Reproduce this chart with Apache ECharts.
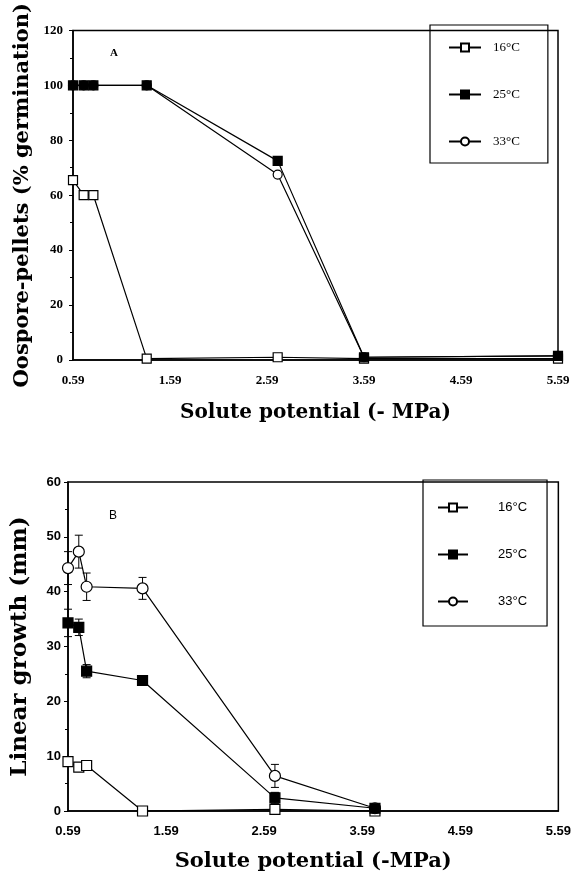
<!DOCTYPE html>
<html>
<head>
<meta charset="utf-8">
<script src="https://cdn.jsdelivr.net/npm/echarts@6/dist/echarts.min.js"></script>
<style>
  body { margin: 0; background: #fff; }
  #chartA { width: 574px; height: 430px; }
  #chartB { width: 574px; height: 447px; }
</style>
</head>
<body>
<div id="chartA"></div>
<div id="chartB"></div>
<script>
// panel A: oospore-pellet germination (%)
var xTicks = [0.59, 1.59, 2.59, 3.59, 4.59, 5.59];
var legendNames = ['16°C', '25°C', '33°C'];

var xA = [0.59, 0.70, 0.80, 1.35, 2.70, 3.59, 5.59];
var germ16 = [65.5, 60, 60, 0.5, 1, 0.5, 0.5];
var germ25 = [100, 100, 100, 100, 72.5, 1, 1.5];
var germ33 = [100, 100, 100, 100, 67.5, 1, 1.5];

// panel B: linear growth (mm), with error bars
var xB = [0.59, 0.70, 0.78, 1.35, 2.70, 3.72];
var grow16 = [9, 8, 8.3, 0, 0.3, 0];
var grow25 = [34.3, 33.5, 25.5, 23.8, 2.4, 0.5];
var grow33 = [44.3, 47.3, 40.9, 40.6, 6.4, 0.5];
var err16 = [0.8, 0.6, 0.6, 0, 0, 0];
var err25 = [2.5, 1.5, 1.2, 0.5, 1, 0];
var err33 = [3, 3, 2.5, 2, 2.1, 0];

function pairs(xs, ys) {
    return xs.map(function (x, i) { return [x, ys[i]]; });
}
function errRows(xs, ys, es) {
    return xs.map(function (x, i) { return [x, ys[i] - es[i], ys[i] + es[i]]; });
}

var symbolStyles = {
    '16°C': {symbol: 'rect', color: '#fff'},
    '25°C': {symbol: 'rect', color: '#000'},
    '33°C': {symbol: 'circle', color: '#fff'}
};

function lineSeries(name, data, z, size) {
    return {
        name: name,
        type: 'line',
        data: data,
        symbol: symbolStyles[name].symbol,
        symbolSize: size,
        z: z,
        lineStyle: {color: '#000', width: 1.2},
        itemStyle: {color: symbolStyles[name].color, borderColor: '#000', borderWidth: 1.2}
    };
}

function errorSeries(name, rows) {
    return {
        name: name,
        type: 'custom',
        data: rows,
        z: 1,
        encode: {x: 0, y: [1, 2]},
        renderItem: function (params, api) {
            var x = api.value(0);
            var lo = api.coord([x, api.value(1)]);
            var hi = api.coord([x, api.value(2)]);
            var st = {stroke: '#000', lineWidth: 1};
            return {
                type: 'group',
                children: [
                    {type: 'line', shape: {x1: lo[0], y1: lo[1], x2: hi[0], y2: hi[1]}, style: st},
                    {type: 'line', shape: {x1: lo[0] - 4, y1: lo[1], x2: lo[0] + 4, y2: lo[1]}, style: st},
                    {type: 'line', shape: {x1: hi[0] - 4, y1: hi[1], x2: hi[0] + 4, y2: hi[1]}, style: st}
                ]
            };
        }
    };
}

function xAxisCfg(labelFont, nameText, nameSize, gap) {
    return {
        type: 'value',
        min: 0.59,
        max: 5.59,
        name: nameText,
        nameLocation: 'middle',
        nameGap: gap,
        nameTextStyle: {fontFamily: 'DejaVu Serif', fontWeight: 'bold', fontSize: nameSize, color: '#000'},
        axisLine: {lineStyle: {color: '#000', width: 1.5}},
        axisTick: {show: false},
        splitLine: {show: false},
        axisLabel: {
            customValues: xTicks,
            margin: 14,
            color: '#000',
            fontFamily: labelFont.family,
            fontSize: labelFont.size,
            fontWeight: labelFont.weight,
            formatter: function (v) { return v.toFixed(2); }
        }
    };
}

function yAxisCfg(max, step, labelFont, nameText, nameSize, gap, labelMargin) {
    return {
        type: 'value',
        min: 0,
        max: max,
        interval: step,
        name: nameText,
        nameLocation: 'middle',
        nameGap: gap,
        nameTextStyle: {fontFamily: 'DejaVu Serif', fontWeight: 'bold', fontSize: nameSize, color: '#000'},
        axisLine: {show: true, lineStyle: {color: '#000', width: 1.5}},
        axisTick: {show: true, length: 4, lineStyle: {color: '#000'}},
        minorTick: {show: true, splitNumber: 2, length: 3, lineStyle: {color: '#000'}},
        splitLine: {show: false},
        axisLabel: {
            margin: labelMargin,
            color: '#000',
            fontFamily: labelFont.family,
            fontSize: labelFont.size,
            fontWeight: labelFont.weight
        }
    };
}

var chartA = echarts.init(document.getElementById('chartA'));
var serifFont = {family: 'Liberation Serif', size: 13, weight: 'bold'};
chartA.setOption({
    animation: false,
    backgroundColor: '#fff',
    grid: {left: 73, right: 16, top: 30, bottom: 70, show: true, borderColor: '#000', borderWidth: 1.5},
    legend: {
        data: legendNames,
        orient: 'vertical',
        left: 430,
        top: 25,
        padding: [16, 28, 15, 18],
        itemGap: 34,
        itemWidth: 32,
        itemHeight: 10,
        borderColor: '#000',
        borderWidth: 1.2,
        textStyle: {fontFamily: 'Liberation Serif', fontSize: 13, color: '#000', padding: [0, 0, 0, 7]}
    },
    graphic: [{
        type: 'text', left: 110, top: 48,
        style: {text: 'A', fontFamily: 'Liberation Serif', fontWeight: 'bold', fontSize: 11, fill: '#000'}
    }],
    xAxis: xAxisCfg(serifFont, 'Solute potential (- MPa)', 20, 43),
    yAxis: yAxisCfg(120, 20, serifFont, 'Oospore-pellets (% germination)', 21, 38, 10),
    series: [
        lineSeries('16°C', pairs(xA, germ16), 2, 9),
        lineSeries('33°C', pairs(xA, germ33), 3, 9),
        lineSeries('25°C', pairs(xA, germ25), 4, 9)
    ]
});

var chartB = echarts.init(document.getElementById('chartB'));
var sansFont = {family: 'Liberation Sans', size: 13, weight: 'bold'};
chartB.setOption({
    animation: false,
    backgroundColor: '#fff',
    grid: {left: 68, right: 14, top: 52, bottom: 66, show: true, borderColor: '#000', borderWidth: 1.5},
    legend: {
        data: legendNames,
        orient: 'vertical',
        left: 423,
        top: 50,
        padding: [21, 20, 18, 14],
        itemGap: 34,
        itemWidth: 30,
        itemHeight: 10,
        borderColor: '#000',
        borderWidth: 1.2,
        textStyle: {fontFamily: 'Liberation Sans', fontSize: 13, color: '#000', padding: [0, 0, 0, 25]}
    },
    graphic: [{
        type: 'text', left: 109, top: 80,
        style: {text: 'B', fontFamily: 'Liberation Sans', fontSize: 12, fill: '#000'}
    }],
    xAxis: xAxisCfg(sansFont, 'Solute potential (-MPa)', 21, 40),
    yAxis: yAxisCfg(60, 10, sansFont, 'Linear growth (mm)', 23, 36, 7),
    series: [
        errorSeries('err16', errRows(xB, grow16, err16)),
        errorSeries('err25', errRows(xB, grow25, err25)),
        errorSeries('err33', errRows(xB, grow33, err33)),
        lineSeries('16°C', pairs(xB, grow16), 2, 10),
        lineSeries('33°C', pairs(xB, grow33), 3, 11),
        lineSeries('25°C', pairs(xB, grow25), 4, 10)
    ]
});
</script>
</body>
</html>
